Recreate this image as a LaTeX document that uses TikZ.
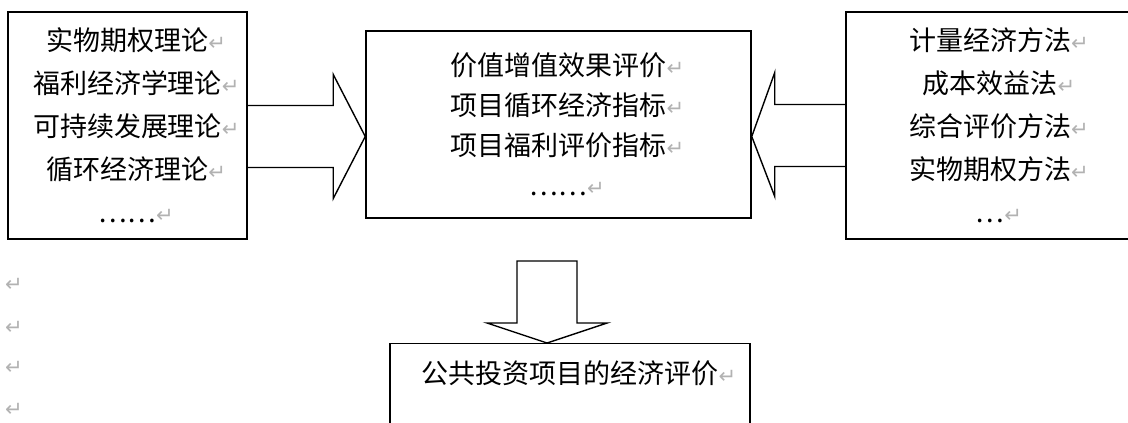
\documentclass[tikz,border=0pt]{standalone}
\usepackage{fontspec}
\newfontfamily\cjk{Noto Sans CJK SC}
\newfontfamily\markfont{DejaVu Sans}
\usetikzlibrary{calc}
\newcommand{\retmark}{\rlap{\markfont\fontsize{15}{15}\selectfont\color{gray!60}↵}}

\begin{document}
\begin{tikzpicture}[x=0.025cm,y=-0.025cm,
    box/.style={draw,line width=1pt,align=center,inner sep=0pt,font=\cjk\fontsize{19.2}{30.5}\selectfont},
    blockarrow/.style={draw,line width=1pt,line join=miter},
    retnode/.style={text=gray!60,inner sep=0pt,font=\markfont\fontsize{15}{15}\selectfont}]
    \useasboundingbox (0,0) rectangle (1128,422);
    \clip (0,0) rectangle (1128,422);
    \node[box,minimum width=5.975cm,minimum height=5.675cm] (theory) at (127.5,125.5)
      {实物期权理论\retmark\\福利经济学理论\retmark\\可持续发展理论\retmark\\循环经济理论\retmark\\……\retmark};
    \node[box,minimum width=9.625cm,minimum height=4.675cm,font=\cjk\fontsize{19.2}{28.5}\selectfont] (index) at (558.5,124.5)
      {价值增值效果评价\retmark\\项目循环经济指标\retmark\\项目福利评价指标\retmark\\……\retmark};
    \node[box,minimum width=7.2cm,minimum height=5.675cm] (method) at (990,125.5)
      {计量经济方法\retmark\\成本效益法\retmark\\综合评价方法\retmark\\实物期权方法\retmark\\…\retmark};
    \node[box,anchor=north,minimum width=9cm,inner ysep=0.2cm,text height=0.8cm,text depth=2cm] (evaluation) at (570,343)
      {公共投资项目的经济评价\retmark};
    % block arrows
    \coordinate (l) at ($(index.west)+(0,12)$);
    \coordinate (r) at ($(index.east)+(0,12)$);
    \coordinate (d) at ($(evaluation.north)+(-23,0)$);
    \draw[blockarrow] ($(theory.east |- l)+(0,-31)$) -- ($(l)+(-32,-31)$) -- ($(l)+(-32,-62)$) -- (l)
      -- ($(l)+(-32,62)$) -- ($(l)+(-32,31)$) -- ($(theory.east |- l)+(0,31)$);
    \draw[blockarrow] ($(method.west |- r)+(0,-32)$) -- ($(r)+(23,-32)$) -- ($(r)+(23,-64)$) -- (r)
      -- ($(r)+(23,60)$) -- ($(r)+(23,30)$) -- ($(method.west |- r)+(0,30)$);
    \draw[blockarrow] ($(d)+(-30,-82)$) -- ($(d)+(-30,-20)$) -- ($(d)+(-60,-20)$) -- (d)
      -- ($(d)+(60,-20)$) -- ($(d)+(30,-20)$) -- ($(d)+(30,-82)$) -- cycle;
    \foreach \y [count=\i] in {285,328,368,410}
      \node[retnode] (m\i) at (14,\y) {↵};
\end{tikzpicture}
\end{document}
